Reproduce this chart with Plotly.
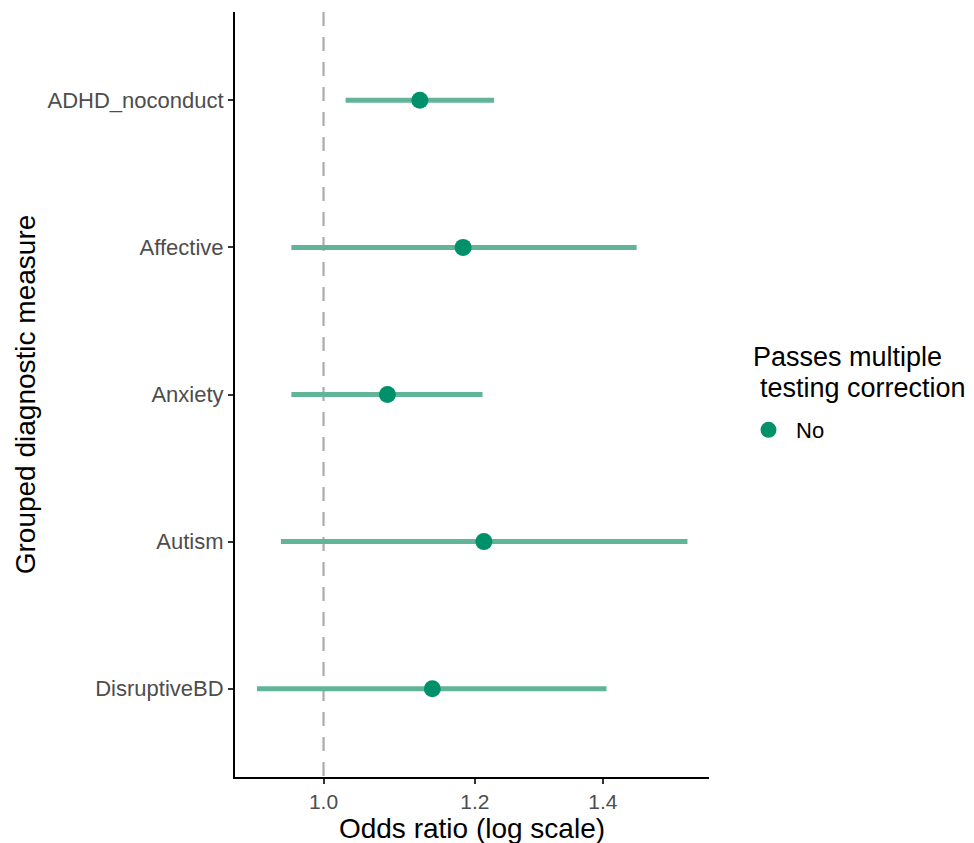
import plotly.graph_objects as go

categories = ["ADHD_noconduct", "Affective", "Anxiety", "Autism", "DisruptiveBD"]
odds_ratio = [1.123, 1.183, 1.080, 1.213, 1.140]
ci_low = [1.027, 0.962, 0.962, 0.950, 0.923]
ci_high = [1.228, 1.458, 1.211, 1.550, 1.406]
passes = ["No", "No", "No", "No", "No"]
x_tickvals = [1.0, 1.2, 1.4]
x_ticktext = ["1.0", "1.2", "1.4"]
legend_title_lines = ["Passes multiple", " testing correction"]
ref_value = 1.0

ypos = list(range(len(categories)))

point_color = "#00916B"
line_color = "#62B498"

fig = go.Figure()

# reference dashed line
fig.add_trace(go.Scatter(
    x=[ref_value, ref_value], y=[-0.6, len(categories) - 0.4],
    mode="lines", line=dict(color="#ABABAB", width=2.2, dash="14px,11px"),
    showlegend=False, hoverinfo="skip"))

# confidence interval lines
lx, ly = [], []
for lo, hi, y in zip(ci_low, ci_high, ypos):
    lx += [lo, hi, None]
    ly += [y, y, None]
fig.add_trace(go.Scatter(
    x=lx, y=ly, mode="lines", line=dict(color=line_color, width=5),
    showlegend=False, hoverinfo="skip"))

# points
fig.add_trace(go.Scatter(
    x=odds_ratio, y=ypos, mode="markers", name=passes[0],
    marker=dict(color=point_color, size=17),
    showlegend=True))

# legend title as two text lines
fig.add_annotation(text=legend_title_lines[0], xref="paper", yref="paper",
                   x=1.089, y=0.549, xanchor="left", yanchor="middle",
                   showarrow=False, font=dict(size=27, color="black"))
fig.add_annotation(text=legend_title_lines[1].strip(), xref="paper", yref="paper",
                   x=1.1035, y=0.5085, xanchor="left", yanchor="middle",
                   showarrow=False, font=dict(size=27, color="black"))

fig.update_layout(
    width=974, height=843,
    margin=dict(l=227, r=273, t=4, b=74),
    plot_bgcolor="white", paper_bgcolor="white",
    font=dict(family="Liberation Sans, Arial, sans-serif"),
    xaxis=dict(
        type="log", range=[-0.0463, 0.2016],
        tickvals=x_tickvals, ticktext=x_ticktext,
        tickfont=dict(size=21, color="#4D4D4D"),
        ticks="outside", ticklen=5, tickwidth=1.5, tickcolor="#333333",
        showline=True, linecolor="black", linewidth=2,
        showgrid=False, zeroline=False,
        title=dict(text="Odds ratio (log scale)", font=dict(size=28, color="black"), standoff=0),
    ),
    yaxis=dict(
        range=[len(categories) - 0.4, -0.6],
        tickvals=ypos, ticktext=categories,
        tickfont=dict(size=22, color="#4D4D4D"),
        ticks="outside", ticklen=5, tickwidth=1.5, tickcolor="#333333",
        showline=True, linecolor="black", linewidth=2,
        showgrid=False, zeroline=False,
        title=dict(text="Grouped diagnostic measure", font=dict(size=28, color="black"), standoff=4),
    ),
    legend=dict(
        font=dict(size=22, color="black"),
        x=1.0675, xanchor="left", y=0.4536, yanchor="middle",
        itemwidth=45,
        bgcolor="rgba(0,0,0,0)",
    ),
)

fig.write_html("out.html")
